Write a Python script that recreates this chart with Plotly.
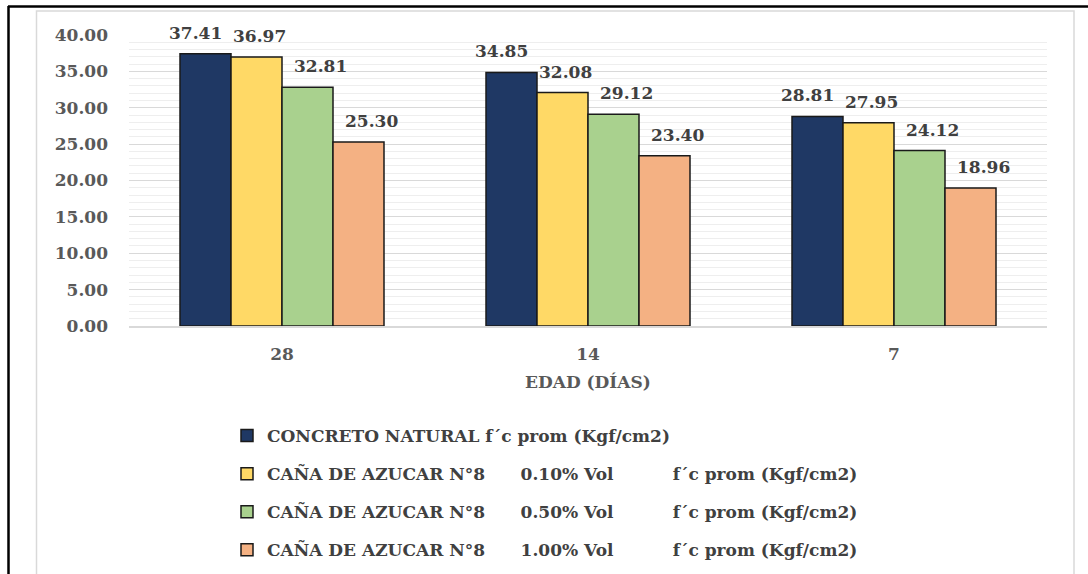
import plotly.graph_objects as go

categories = ["28", "14", "7"]
series_names = [
    "CONCRETO NATURAL f´c prom (Kgf/cm2)",
    "CAÑA DE AZUCAR N°8" + "\u00a0" * 6 + "0.10% Vol" + "\u00a0" * 10 + "f´c prom (Kgf/cm2)",
    "CAÑA DE AZUCAR N°8" + "\u00a0" * 6 + "0.50% Vol" + "\u00a0" * 10 + "f´c prom (Kgf/cm2)",
    "CAÑA DE AZUCAR N°8" + "\u00a0" * 6 + "1.00% Vol" + "\u00a0" * 10 + "f´c prom (Kgf/cm2)",
]
natural = [37.41, 34.85, 28.81]
cana_010 = [36.97, 32.08, 27.95]
cana_050 = [32.81, 29.12, 24.12]
cana_100 = [25.30, 23.40, 18.96]
series_values = [natural, cana_010, cana_050, cana_100]
colors = ["#1F3864", "#FFD966", "#A9D18E", "#F4B183"]
label_xshift = [-10, 3, 13, 13]

FONT = "DejaVu Serif"
W, H = 1088, 574
X0, X1, Y0, Y1 = 129, 1047, 35, 326
ML, MR, MT, MB = X0, W - X1, Y0, H - Y1
PW, PH = X1 - X0, Y1 - Y0

def px(x):
    return (x - X0) / PW

def py(y):
    return (Y1 - y) / PH

bargap = 1 / 3
n = len(series_values)
bw = (1 - bargap) / n

fig = go.Figure()
annotations = []
for j, (name, vals, col) in enumerate(zip(series_names, series_values, colors)):
    fig.add_trace(go.Bar(
        x=list(range(len(categories))), y=vals, name=name,
        marker=dict(color=col, line=dict(color="#1a1a1a", width=1.5)),
        legendgroup=str(j),
    ))
    for i, v in enumerate(vals):
        annotations.append(dict(
            x=i + (j - (n - 1) / 2) * bw, y=v, xref="x", yref="y",
            text=f"{v:.2f}", showarrow=False, yanchor="bottom",
            yshift=9, xshift=label_xshift[j],
            font=dict(family=FONT, size=17, color="#404040", weight="bold"),
        ))

annotations.append(dict(
    x=0.5, y=py(382), xref="paper", yref="paper", text="EDAD (DÍAS)",
    showarrow=False, yanchor="middle",
    font=dict(family=FONT, size=17, color="#595959", weight="bold"),
))

shapes = [
    dict(type="line", xref="paper", yref="paper", x0=px(8), x1=px(1095), y0=py(6.5), y1=py(6.5),
         line=dict(color="black", width=2.5)),
    dict(type="line", xref="paper", yref="paper", x0=px(8.5), x1=px(8.5), y0=py(6), y1=py(590),
         line=dict(color="black", width=2.5)),
    dict(type="rect", xref="paper", yref="paper", x0=px(36.5), x1=px(1074), y0=py(11), y1=py(600),
         line=dict(color="#d9d9d9", width=1.5), layer="below"),
]

fig.update_layout(
    width=W, height=H,
    margin=dict(l=ML, r=MR, t=MT, b=MB, autoexpand=False),
    paper_bgcolor="white", plot_bgcolor="white",
    barmode="group", bargap=bargap, bargroupgap=0,
    font=dict(family=FONT, color="#595959"),
    xaxis=dict(
        tickmode="array", tickvals=list(range(len(categories))), ticktext=categories,
        range=[-0.5, len(categories) - 0.5],
        showgrid=False, showline=True, linecolor="#d9d9d9", linewidth=1.5,
        ticks="", ticklabelstandoff=12,
        tickfont=dict(family=FONT, size=17, color="#595959", weight="bold"),
    ),
    yaxis=dict(
        range=[0, 40], dtick=5, tickformat=".2f",
        showgrid=True, gridcolor="#d9d9d9", gridwidth=1,
        minor=dict(dtick=1, showgrid=True, gridcolor="#eeeeee", gridwidth=1),
        zeroline=False, showline=False, ticks="", ticklabelstandoff=20,
        tickfont=dict(family=FONT, size=17, color="#595959", weight="bold"),
    ),
    legend=dict(
        orientation="v", x=px(227), y=py(418), xanchor="left", yanchor="top",
        font=dict(family=FONT, size=17, color="#404040", weight="bold"),
        tracegroupgap=13, traceorder="grouped", itemwidth=30,
        bgcolor="rgba(0,0,0,0)",
    ),
    annotations=annotations,
    shapes=shapes,
)

fig.write_html(
    "out.html",
    config={"displayModeBar": False},
    post_script="document.body.style.margin='0';document.body.style.overflow='hidden';",
)
